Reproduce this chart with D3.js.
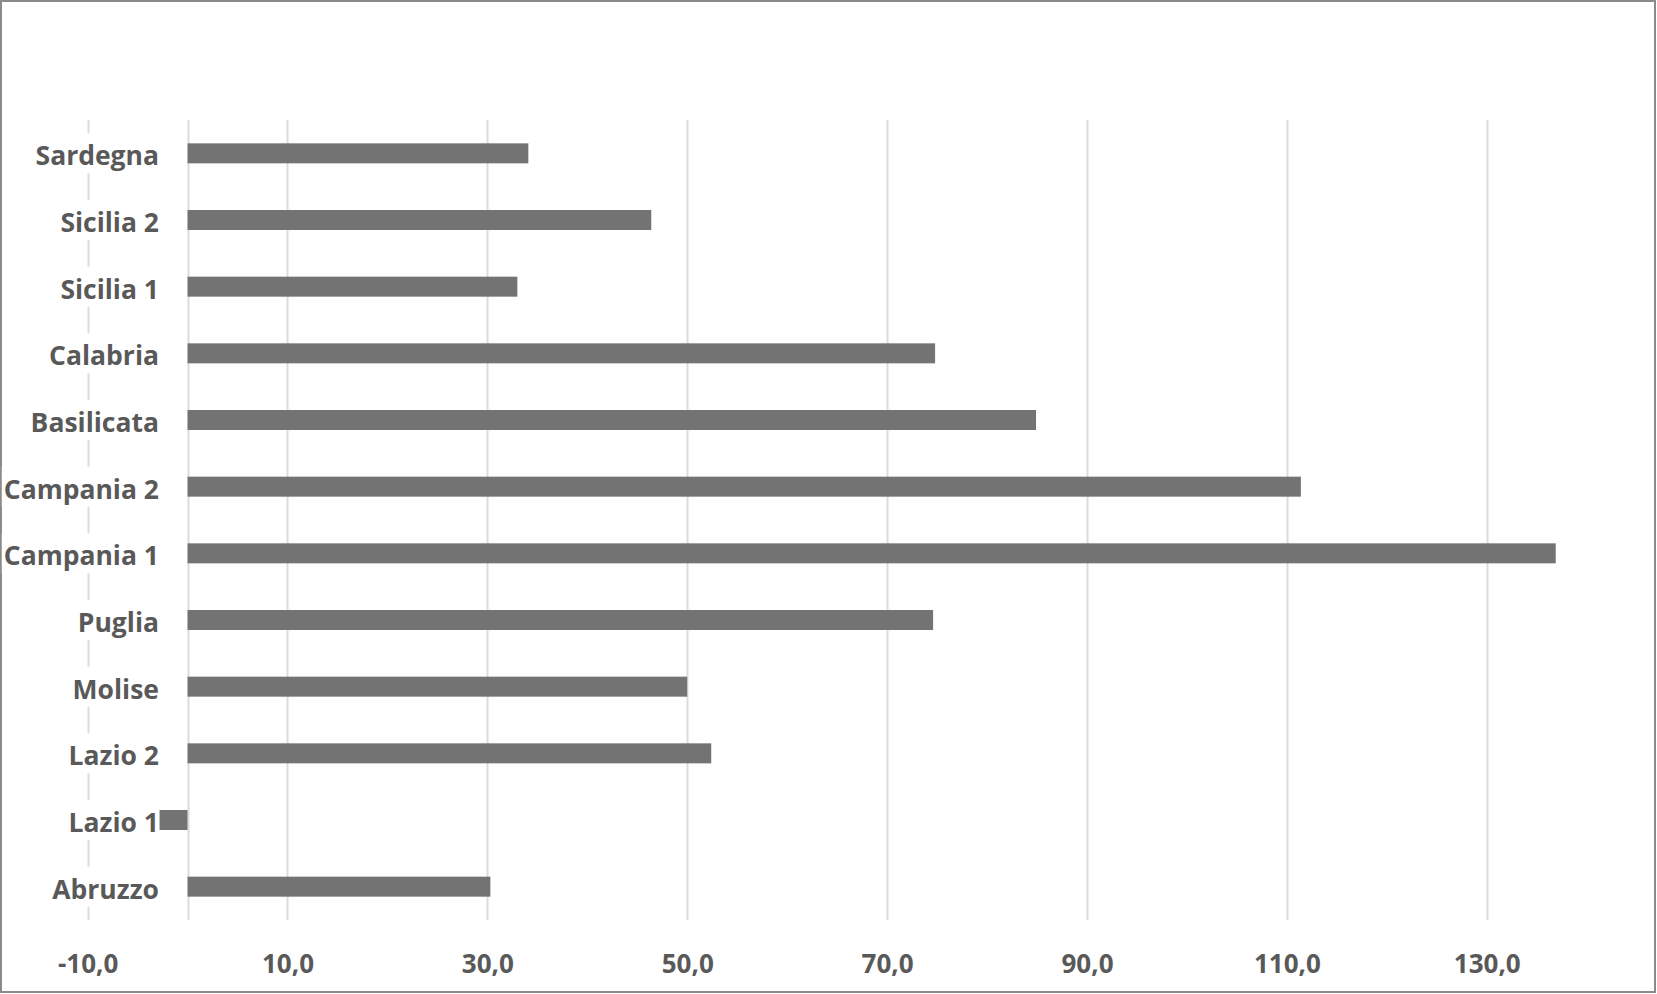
<!DOCTYPE html>
<html>
<head>
<meta charset="utf-8">
<script src="https://cdn.jsdelivr.net/npm/d3@7"></script>
<style>
  html, body { margin: 0; padding: 0; background: #fff; }
  svg { display: block; }
</style>
</head>
<body>
<svg id="chart" width="1657" height="994"></svg>
<script>
const categories = ["Sardegna", "Sicilia 2", "Sicilia 1", "Calabria", "Basilicata", "Campania 2", "Campania 1", "Puglia", "Molise", "Lazio 2", "Lazio 1", "Abruzzo"];
const values = [34.1, 46.4, 33.0, 74.8, 84.9, 111.4, 136.9, 74.6, 50.0, 52.4, -2.8, 30.3];
const tickValues = [-10, 10, 30, 50, 70, 90, 110, 130];
const gridValues = [-10, 0, 10, 30, 50, 70, 90, 110, 130];

const W = 1657, H = 994;
const svg = d3.select("#chart");
const tickFont = "'Open Sans', Lato, sans-serif";
const catFont = "'Open Sans', Lato, sans-serif";
const textColor = "#595959";

// outer border
svg.append("rect")
  .attr("x", 1).attr("y", 1).attr("width", W - 3).attr("height", H - 3)
  .attr("fill", "#fff").attr("stroke", "#8a8a8a").attr("stroke-width", 2);

const x = d3.scaleLinear().domain([-10, 140]).range([87.6, 1586.7]);
const y = d3.scaleBand().domain(categories).range([120, 920]).paddingInner(0.7).paddingOuter(0.35);

const locale = d3.formatLocale({decimal: ",", thousands: ".", grouping: [3], currency: ["€", ""], minus: "-"});
const fmt = locale.format(".1f");

// gridlines
svg.append("g").selectAll("line").data(gridValues).join("line")
  .attr("x1", d => Math.round(x(d)) + 0.5).attr("x2", d => Math.round(x(d)) + 0.5)
  .attr("y1", 120).attr("y2", 920)
  .attr("stroke", "#dcdcdc").attr("stroke-width", 2);

// category labels with white backgrounds
const labelG = svg.append("g");
categories.forEach(c => {
  const cy = y(c) + y.bandwidth() / 2;
  const t = labelG.append("text")
    .attr("x", 159).attr("y", cy + 5)
    .attr("text-anchor", "end").attr("dominant-baseline", "middle")
    .attr("font-family", catFont).attr("font-weight", "bold")
    .attr("font-size", 26.5).attr("fill", textColor)
    .text(c);
  const bb = t.node().getBBox();
  labelG.insert("rect", "text")
    .attr("x", bb.x - 2).attr("y", cy - 20)
    .attr("width", bb.width + 4).attr("height", 40)
    .attr("fill", "#fff");
});

// bars
svg.append("g").selectAll("rect").data(categories).join("rect")
  .attr("x", (c, i) => x(Math.min(0, values[i])))
  .attr("width", (c, i) => Math.abs(x(values[i]) - x(0)))
  .attr("y", c => y(c))
  .attr("height", y.bandwidth())
  .attr("fill", "#737373");

// x axis tick labels
const axis = d3.axisBottom(x).tickValues(tickValues).tickFormat(fmt).tickSize(0).tickPadding(0);
const ag = svg.append("g").attr("transform", "translate(0,964)").call(axis);
ag.select(".domain").remove();
ag.selectAll("text")
  .attr("dy", "0.35em")
  .attr("font-family", tickFont).attr("font-weight", "bold")
  .attr("font-size", 26).attr("fill", textColor);
</script>
</body>
</html>
